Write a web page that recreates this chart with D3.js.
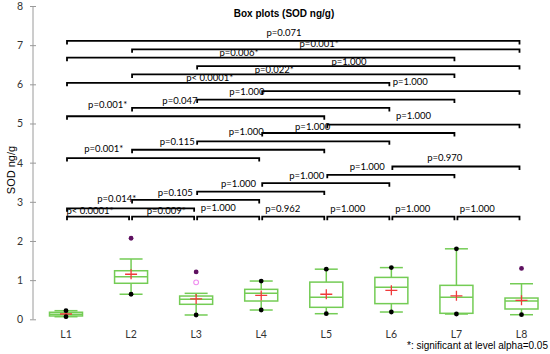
<!DOCTYPE html>
<html>
<head>
<meta charset="utf-8">
<script src="https://cdn.jsdelivr.net/npm/d3@7"></script>
<style>
  body { margin: 0; background: #fff; }
</style>
</head>
<body>
<div id="chart"></div>
<script>
// data
const groups = ["L1", "L2", "L3", "L4", "L5", "L6", "L7", "L8"];
const whiskLo = [0.066, 0.64, 0.11, 0.237, 0.143, 0.186, 0.135, 0.117];
const q1 = [0.085, 0.92, 0.383, 0.467, 0.306, 0.40, 0.153, 0.263];
const medians = [0.13, 1.087, 0.51, 0.663, 0.56, 0.816, 0.56, 0.467];
const q3 = [0.18, 1.24, 0.594, 0.765, 0.95, 1.07, 0.867, 0.543];
const whiskHi = [0.22, 1.54, 0.663, 0.977, 1.28, 1.32, 1.80, 0.908];
const minVals = [0.066, 0.64, 0.11, 0.237, 0.143, 0.186, 0.135, 0.117];
const maxVals = [0.22, 2.07, 1.21, 0.977, 1.28, 1.32, 1.80, 1.30];
const means = [0.135, 1.15, 0.52, 0.61, 0.64, 0.74, 0.60, 0.485];
const outliers = [[], [], [0.944], [], [], [], [], []];
const yTicks = [0, 1, 2, 3, 4, 5, 6, 7, 8];

// p-values, pairs in order L1-L2, L1-L3 ... L7-L8
const pTexts = [
  "p< 0.0001*", "p=0.014*", "p=0.001*", "p=0.001*", "p< 0.0001*", "p=0.006*", "p=0.071",
  "p=0.009*", "p=0.105", "p=0.115", "p=0.047", "p=0.022*", "p=0.001*",
  "p=1.000", "p=1.000", "p=1.000", "p=1.000", "p=1.000",
  "p=0.962", "p=1.000", "p=1.000", "p=1.000",
  "p=1.000", "p=1.000", "p=1.000",
  "p=1.000", "p=0.970",
  "p=1.000"
];

// where each p label sits (category units along x, px above its bracket)
const labelAt = [
  0.37, 0.78, 0.58, 0.64, 2.21, 2.66, 3.35,
  1.54, 1.68, 1.71, 1.75, 3.20, 3.89,
  2.34, 2.65, 2.77, 2.78, 4.35,
  3.33, 3.70, 3.79, 5.29,
  4.33, 4.63, 5.34,
  5.33, 5.82,
  6.32
];
const labelDy = [
  -5.7, -9.3, -9.3, -11.7, -5, -4.6, -8,
  -5.7, -7, -8.3, -7.3, -4.7, -6,
  -8.6, -7.7, -9.7, -8, -4.7,
  -8.4, -7.6, -6.3, -9,
  -8.4, -8.3, -8.6,
  -8.4, -9,
  -8.4
];

const width = 550, height = 354;
const bracketBase = 2.62, bracketStep = 0.2137;
const green = "#74cc55";

const svg = d3.select("#chart")
  .append("svg")
  .attr("width", width)
  .attr("height", height)
  .style("font-family", "Lato, sans-serif");

const x = d3.scalePoint()
  .domain(groups)
  .range([66, 521.5]);

// same positions but by index, for the p labels
const xi = d3.scaleLinear()
  .domain([0, groups.length - 1])
  .range([66, 521.5]);

const y = d3.scaleLinear()
  .domain([0, 8])
  .range([319.3, 6]);

// y axis - ticks cross the line
const yAxis = svg.append("g")
  .attr("transform", "translate(36,0)")
  .call(d3.axisLeft(y).tickValues(yTicks).tickSize(6).tickPadding(7));
yAxis.select(".domain").remove();
yAxis.selectAll("line").attr("stroke", "#9a9a9a");
yAxis.selectAll("text")
  .style("font-family", "Lato, sans-serif")
  .style("font-size", "10.5px")
  .attr("fill", "#333");

svg.append("line")
  .attr("x1", 33).attr("x2", 33)
  .attr("y1", y(8)).attr("y2", y(0))
  .attr("stroke", "#9a9a9a")
  .attr("stroke-width", 1);

svg.append("text")
  .attr("transform", "rotate(-90)")
  .attr("x", -170)
  .attr("y", 15)
  .attr("text-anchor", "middle")
  .style("font-family", "'Liberation Sans', Arial, sans-serif")
  .style("font-size", "11px")
  .text("SOD ng/g");

// category labels
svg.selectAll(".xlab")
  .data(groups)
  .enter()
  .append("text")
  .attr("class", "xlab")
  .attr("x", d => x(d))
  .attr("y", 334)
  .attr("dy", "0.35em")
  .attr("text-anchor", "middle")
  .style("font-size", "10.5px")
  .attr("fill", "#333")
  .text(d => d);

svg.append("text")
  .attr("x", 284)
  .attr("y", 16.5)
  .attr("text-anchor", "middle")
  .style("font-family", "'Liberation Sans', Arial, sans-serif")
  .style("font-size", "10px")
  .style("font-weight", "bold")
  .text("Box plots (SOD ng/g)");

svg.append("text")
  .attr("x", 548)
  .attr("y", 349)
  .attr("text-anchor", "end")
  .style("font-family", "'Liberation Sans', Arial, sans-serif")
  .style("font-size", "10px")
  .text("*: significant at level alpha=0.05");

// boxes
const boxW = 33, capW = 23;
const boxes = groups.map((g, i) => ({
  g, lo: whiskLo[i], q1: q1[i], med: medians[i], q3: q3[i], hi: whiskHi[i],
  min: minVals[i], max: maxVals[i], mean: means[i], out: outliers[i]
}));

const bg = svg.selectAll(".box")
  .data(boxes)
  .enter()
  .append("g")
  .attr("class", "box")
  .attr("transform", d => `translate(${x(d.g)},0)`);

// whiskers
bg.append("line")
  .attr("y1", d => y(d.q3)).attr("y2", d => y(d.hi))
  .attr("stroke", green).attr("stroke-width", 1.5);
bg.append("line")
  .attr("y1", d => y(d.q1)).attr("y2", d => y(d.lo))
  .attr("stroke", green).attr("stroke-width", 1.5);
bg.append("line")
  .attr("x1", -capW / 2).attr("x2", capW / 2)
  .attr("y1", d => y(d.hi)).attr("y2", d => y(d.hi))
  .attr("stroke", green).attr("stroke-width", 1.5);
bg.append("line")
  .attr("x1", -capW / 2).attr("x2", capW / 2)
  .attr("y1", d => y(d.lo)).attr("y2", d => y(d.lo))
  .attr("stroke", green).attr("stroke-width", 1.5);

bg.append("rect")
  .attr("x", -boxW / 2)
  .attr("width", boxW)
  .attr("y", d => y(d.q3))
  .attr("height", d => y(d.q1) - y(d.q3))
  .attr("fill", "none")
  .attr("stroke", green)
  .attr("stroke-width", 1.5);

bg.append("line")
  .attr("x1", -boxW / 2).attr("x2", boxW / 2)
  .attr("y1", d => y(d.med)).attr("y2", d => y(d.med))
  .attr("stroke", green).attr("stroke-width", 1.5);

// mean cross
bg.append("path")
  .attr("d", d => `M-6,${y(d.mean)}h12M0,${y(d.mean) - 5}v10`)
  .attr("stroke", "#f03a3a")
  .attr("stroke-width", 1.3);

// min / max dots (purple when outside whiskers)
bg.selectAll(".mm")
  .data(d => [d.min, d.max].map(v => ({ v, off: v > d.hi || v < d.lo })))
  .enter()
  .append("circle")
  .attr("class", "mm")
  .attr("cy", d => y(d.v))
  .attr("r", 2.4)
  .attr("fill", d => d.off ? "#5e1060" : "#000");

bg.selectAll(".out")
  .data(d => d.out)
  .enter()
  .append("circle")
  .attr("class", "out")
  .attr("cy", d => y(d))
  .attr("r", 2.4)
  .attr("fill", "none")
  .attr("stroke", "#f08cf0")
  .attr("stroke-width", 1.1);

// comparison brackets
const comps = [];
for (let i = 0; i < groups.length; i++) {
  for (let j = i + 1; j < groups.length; j++) {
    comps.push({ i, j });
  }
}
comps.forEach((c, k) => {
  c.p = pTexts[k];
  c.lx = labelAt[k];
  c.dy = labelDy[k];
  const d = c.j - c.i;
  let lvl = 0;
  if (d > 1) {
    lvl = 1;
    for (let g = 2; g < d; g++) lvl += groups.length - g;
    lvl += c.i;
  }
  c.level = lvl;
});

const tick = 3.5;
svg.selectAll(".bracket")
  .data(comps)
  .enter()
  .append("path")
  .attr("class", "bracket")
  .attr("d", c => {
    const by = y(bracketBase + c.level * bracketStep);
    const x1 = x(groups[c.i]) + 1, x2 = x(groups[c.j]) - 2;
    return `M${x1},${by + tick}V${by}H${x2}V${by + tick}`;
  })
  .attr("fill", "none")
  .attr("stroke", "#000")
  .attr("stroke-width", 1.8);

svg.selectAll(".plab")
  .data(comps)
  .enter()
  .append("text")
  .attr("class", "plab")
  .attr("x", c => xi(c.lx))
  .attr("y", c => y(bracketBase + c.level * bracketStep) + c.dy)
  .attr("dy", "0.35em")
  .attr("text-anchor", "middle")
  .style("font-size", "9.5px")
  .text(c => c.p);
</script>
</body>
</html>
